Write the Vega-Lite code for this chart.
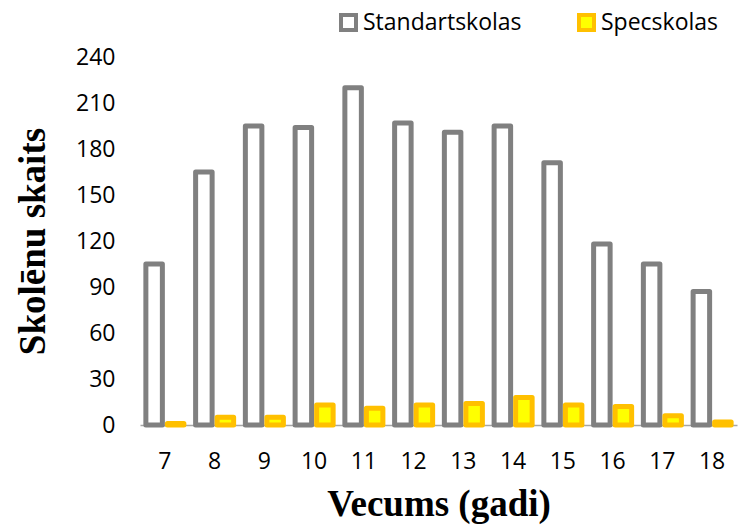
{
  "$schema": "https://vega.github.io/schema/vega-lite/v6.json",
  "width": 597,
  "height": 368,
  "autosize": {"type": "none"},
  "padding": {"left": 140, "top": 57, "right": 7, "bottom": 106},
  "background": "white",
  "config": {"view": {"stroke": null}},
  "data": {
    "values": [
      {"age": "7", "type": "Standartskolas", "count": 105},
      {"age": "8", "type": "Standartskolas", "count": 165},
      {"age": "9", "type": "Standartskolas", "count": 195},
      {"age": "10", "type": "Standartskolas", "count": 194},
      {"age": "11", "type": "Standartskolas", "count": 220},
      {"age": "12", "type": "Standartskolas", "count": 197},
      {"age": "13", "type": "Standartskolas", "count": 191},
      {"age": "14", "type": "Standartskolas", "count": 195},
      {"age": "15", "type": "Standartskolas", "count": 171},
      {"age": "16", "type": "Standartskolas", "count": 118},
      {"age": "17", "type": "Standartskolas", "count": 105},
      {"age": "18", "type": "Standartskolas", "count": 87},
      {"age": "7", "type": "Specskolas", "count": 1},
      {"age": "8", "type": "Specskolas", "count": 5},
      {"age": "9", "type": "Specskolas", "count": 5},
      {"age": "10", "type": "Specskolas", "count": 13},
      {"age": "11", "type": "Specskolas", "count": 11},
      {"age": "12", "type": "Specskolas", "count": 13},
      {"age": "13", "type": "Specskolas", "count": 14},
      {"age": "14", "type": "Specskolas", "count": 18},
      {"age": "15", "type": "Specskolas", "count": 13},
      {"age": "16", "type": "Specskolas", "count": 12},
      {"age": "17", "type": "Specskolas", "count": 6},
      {"age": "18", "type": "Specskolas", "count": 2}
    ]
  },
  "mark": {"type": "bar", "strokeWidth": 5, "strokeJoin": "round"},
  "encoding": {
    "x": {
      "field": "age", "type": "ordinal", "sort": null,
      "scale": {"paddingInner": 0.236, "paddingOuter": 0.118},
      "axis": {
        "title": "Vecums (gadi)", "titleFont": "Liberation Serif", "titleFontWeight": "bold",
        "titleFontSize": 37, "titleColor": "black", "titlePadding": 13,
        "labelFont": "Open Sans", "labelFontSize": 23, "labelColor": "black", "labelAngle": 0,
        "labelPadding": 25, "ticks": false, "domainColor": "#A6A6A6", "domainWidth": 1.5
      }
    },
    "xOffset": {
      "field": "type", "type": "nominal", "sort": ["Standartskolas", "Specskolas"],
      "scale": {"paddingInner": 0.233, "paddingOuter": 0}
    },
    "y": {
      "field": "count", "type": "quantitative",
      "scale": {"domain": [0, 240]},
      "axis": {
        "title": "Skolēnu skaits", "titleFont": "Liberation Serif", "titleFontWeight": "bold",
        "titleFontSize": 37, "titleColor": "black", "titlePadding": 23,
        "values": [0, 30, 60, 90, 120, 150, 180, 210, 240],
        "labelFont": "Open Sans", "labelFontSize": 23, "labelColor": "black",
        "labelPadding": 25, "ticks": false, "domain": false, "grid": false
      }
    },
    "fill": {
      "field": "type", "type": "nominal", "sort": ["Standartskolas", "Specskolas"],
      "scale": {"domain": ["Standartskolas", "Specskolas"], "range": ["#FFFFFF", "#FFFF00"]},
      "legend": {
        "title": null, "orient": "none", "direction": "horizontal",
        "legendX": 197, "legendY": -46,
        "labelFont": "Open Sans", "labelFontSize": 23, "labelColor": "black",
        "symbolType": "square", "symbolSize": 225, "symbolStrokeWidth": 4,
        "columnPadding": 49, "labelOffset": 3
      }
    },
    "stroke": {
      "field": "type", "type": "nominal", "sort": ["Standartskolas", "Specskolas"],
      "scale": {"domain": ["Standartskolas", "Specskolas"], "range": ["#808080", "#FFC000"]},
      "legend": {
        "title": null, "orient": "none", "direction": "horizontal",
        "legendX": 197, "legendY": -46,
        "labelFont": "Open Sans", "labelFontSize": 23, "labelColor": "black",
        "symbolType": "square", "symbolSize": 225, "symbolStrokeWidth": 4,
        "columnPadding": 49, "labelOffset": 3
      }
    }
  }
}
